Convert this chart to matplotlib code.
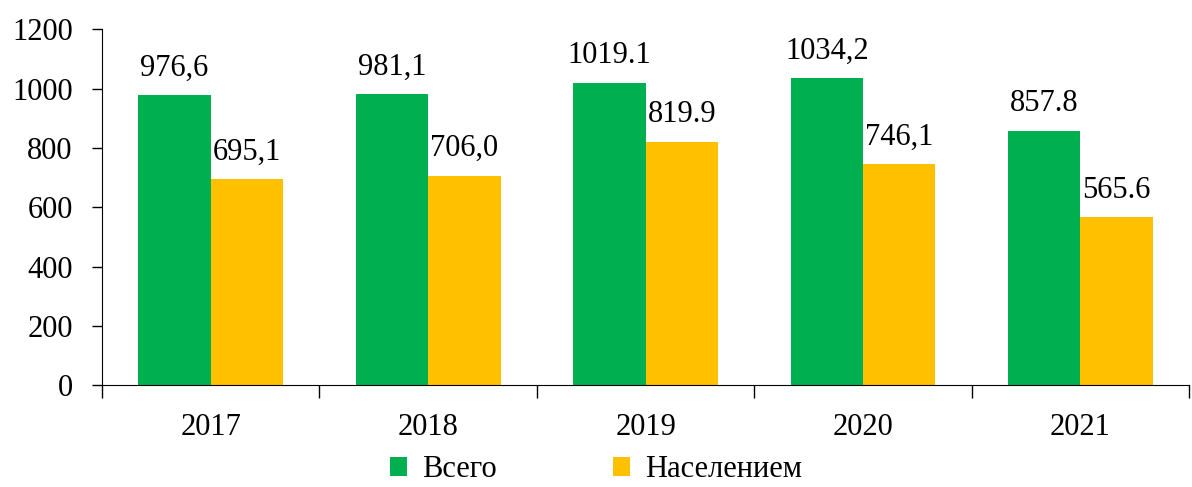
import numpy as np
import matplotlib.pyplot as plt
from matplotlib.ticker import FixedLocator

# data
years = ['2017', '2018', '2019', '2020', '2021']
total = [976.6, 981.1, 1019.1, 1034.2, 857.8]
population = [695.1, 706.0, 819.9, 746.1, 565.6]
total_labels = ['976,6', '981,1', '1019.1', '1034,2', '857.8']
population_labels = ['695,1', '706,0', '819.9', '746,1', '565.6']

plt.rcParams['font.family'] = ['Liberation Serif', 'DejaVu Serif']

fig = plt.figure(figsize=(11.92, 4.87), dpi=100)
ax = fig.add_axes([0.0856, 0.209, 0.912, 0.731])

x = np.arange(len(years))
w = 0.333
b1 = ax.bar(x - w / 2, total, w, color='#00B050', label='Всего')
b2 = ax.bar(x + w / 2, population, w, color='#FFC000', label='Населением')

for rect, txt in zip(b1, total_labels):
    ax.annotate(txt, (rect.get_x() + rect.get_width() / 2, rect.get_height()),
                xytext=(0, 9), textcoords='offset points', ha='center', va='bottom', fontsize=22)
for rect, txt in zip(b2, population_labels):
    ax.annotate(txt, (rect.get_x() + rect.get_width() / 2, rect.get_height()),
                xytext=(0, 9), textcoords='offset points', ha='center', va='bottom', fontsize=22)

ax.set_xlim(-0.5, len(years) - 0.5)
ax.set_ylim(0, 1200)
ax.set_yticks(np.arange(0, 1201, 200))
ax.set_xticks(x)
ax.set_xticklabels(years)
ax.xaxis.set_minor_locator(FixedLocator(np.arange(-0.5, len(years), 1.0)))
ax.tick_params(axis='x', which='major', length=0, pad=20, labelsize=22)
ax.tick_params(axis='x', which='minor', length=9, width=1)
ax.tick_params(axis='y', length=7, width=1, labelsize=22, pad=14)

for s in ['top', 'right']:
    ax.spines[s].set_visible(False)

fig.legend(loc='center', bbox_to_anchor=(0.5, 0.035), ncol=2, frameon=False,
           fontsize=22, handlelength=0.55, handleheight=0.55, handletextpad=0.5,
           columnspacing=3.8, borderpad=0)

plt.savefig('out.png', dpi=100)
